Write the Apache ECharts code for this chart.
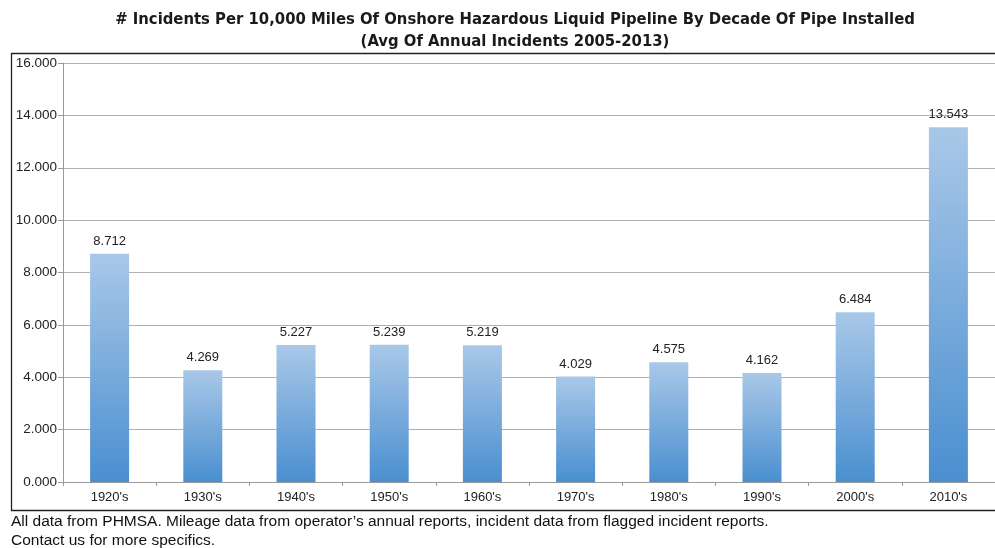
<!DOCTYPE html>
<html>
<head>
<meta charset="utf-8">
<script src="https://cdn.jsdelivr.net/npm/echarts@6/dist/echarts.min.js"></script>
<style>
  html, body { margin: 0; padding: 0; background: #fff; }
  #chart { width: 995px; height: 548px; }
</style>
</head>
<body>
<div id="chart"></div>
<script>
// Decade of pipe installation
const decades = ["1920's", "1930's", "1940's", "1950's", "1960's", "1970's", "1980's", "1990's", "2000's", "2010's"];
// Incidents per 10,000 miles (average of annual incidents 2005-2013)
const incidentRates = [8.712, 4.269, 5.227, 5.239, 5.219, 4.029, 4.575, 4.162, 6.484, 13.543];
// Y axis range and step
const yMin = 0;
const yMax = 16;
const yStep = 2;

const chart = echarts.init(document.getElementById('chart'));

const fmt = v => v.toFixed(3);
const labelFont = '"Liberation Sans", Arial, sans-serif';

chart.setOption({
  animation: false,
  backgroundColor: '#ffffff',
  title: {
    text: '# Incidents Per 10,000 Miles Of Onshore Hazardous Liquid Pipeline By Decade Of Pipe Installed\n(Avg Of Annual Incidents 2005-2013)',
    left: 510,
    top: 4,
    textAlign: 'center',
    textStyle: {
      fontFamily: '"DejaVu Sans Condensed", Arial, sans-serif',
      fontWeight: 'bold',
      fontSize: 16.5,
      lineHeight: 22,
      color: '#1a1a1a'
    }
  },
  graphic: [
    {
      type: 'rect',
      shape: { x: 11.5, y: 53.5, width: 1000, height: 457 },
      style: { fill: 'none', stroke: '#222', lineWidth: 1.3 },
      z: -1
    },
    {
      type: 'text',
      left: 11,
      top: 512,
      style: {
        text: 'All data from PHMSA. Mileage data from operator\u2019s annual reports, incident data from flagged incident reports.\nContact us for more specifics.',
        font: '15.5px "Liberation Sans", Arial, sans-serif',
        lineHeight: 19,
        fill: '#111'
      }
    }
  ],
  grid: {
    left: 63,
    right: -8,
    top: 63,
    bottom: 66,
    containLabel: false
  },
  xAxis: {
    type: 'category',
    data: decades,
    boundaryGap: true,
    axisLine: { lineStyle: { color: '#999', width: 1 } },
    axisTick: { show: true, length: 4, lineStyle: { color: '#999' } },
    axisLabel: {
      color: '#222',
      fontSize: 13,
      fontFamily: labelFont,
      margin: 9
    }
  },
  yAxis: {
    type: 'value',
    min: yMin,
    max: yMax,
    interval: yStep,
    axisLine: { show: true, lineStyle: { color: '#999', width: 1 } },
    axisTick: { show: true, length: 5, lineStyle: { color: '#999' } },
    splitLine: { show: true, lineStyle: { color: '#b0b0b0', width: 1 } },
    axisLabel: {
      color: '#222',
      fontSize: 13.5,
      fontFamily: labelFont,
      margin: 6,
      formatter: v => fmt(v)
    }
  },
  series: [{
    type: 'bar',
    data: incidentRates,
    barWidth: 39,
    itemStyle: {
      color: new echarts.graphic.LinearGradient(0, 0, 0, 1, [
        { offset: 0, color: '#a9c8e8' },
        { offset: 1, color: '#4a8fd0' }
      ])
    },
    label: {
      show: true,
      position: 'top',
      distance: 6,
      color: '#222',
      fontSize: 13,
      fontFamily: labelFont,
      formatter: p => fmt(p.value)
    }
  }]
});
</script>
</body>
</html>
